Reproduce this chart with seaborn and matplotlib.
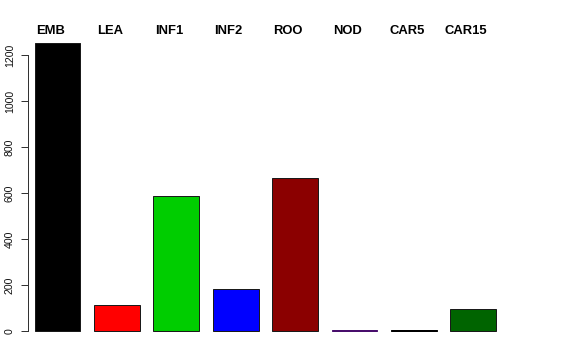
import matplotlib
matplotlib.use("Agg")
import matplotlib.pyplot as plt
import matplotlib.transforms as mtransforms
import seaborn as sns
import pandas as pd

categories = ["EMB", "LEA", "INF1", "INF2", "ROO", "NOD", "CAR5", "CAR15"]
values = [1252, 113, 585, 182, 665, 3, 3, 96]
colors = ["#000000", "#FF0000", "#00CD00", "#0000FF", "#8B0000", "#A020F0", "#000000", "#006400"]
yticks = [0, 200, 400, 600, 800, 1000, 1200]

sns.set_theme(style="white")
plt.rcParams["font.family"] = ["Liberation Sans", "DejaVu Sans"]

W, H = 576, 360
fig = plt.figure(figsize=(W / 72, H / 72), dpi=72)

left_px, right_px, top_px, bottom_px = 28, 560, 30, 345
ax = fig.add_axes([left_px / W, 1 - bottom_px / H, (right_px - left_px) / W, (bottom_px - top_px) / H])

df = pd.DataFrame({"cat": categories, "val": values})
sns.barplot(data=df, x="cat", y="val", hue="cat", palette=colors, legend=False,
            width=0.77, edgecolor="#1a1a1a", linewidth=1.0, ax=ax, saturation=1)

# very short bars: let the fill colour show through the border, as in the reference
for patch, v, col in zip(ax.patches, values, colors):
    if v < 10:
        r, g, b, _ = matplotlib.colors.to_rgba(col)
        patch.set_edgecolor((r * 0.45, g * 0.45, b * 0.45, 1))

pitch = 59.4
c0 = 57.5
ax.set_xlim((left_px - c0) / pitch, (right_px - c0) / pitch)
scale = 0.23
y0 = 331
ax.set_ylim(-(bottom_px - y0) / scale, (y0 - top_px) / scale)

for s in ["top", "right", "bottom"]:
    ax.spines[s].set_visible(False)
ax.spines["left"].set_bounds(0, 1200)
ax.spines["left"].set_color("#333333")
ax.spines["left"].set_linewidth(1.0)

ax.set_yticks(yticks)
ax.set_yticklabels([str(v) for v in yticks], rotation=90, va="center", fontsize=10.5, color="#111111")
ax.tick_params(axis="y", left=True, length=7, width=1.0, color="#333333", pad=6)
ax.set_xticks([])
ax.set_xlabel("")
ax.set_ylabel("")
ax.grid(False)

shift = mtransforms.ScaledTranslation(-7 / 72, 0, fig.dpi_scale_trans)
baseline_y = 1 + (top_px - 34) / (bottom_px - top_px)
for i, c in enumerate(categories):
    ax.text(i, baseline_y, c, transform=ax.get_xaxis_transform() + shift, ha="center",
            va="baseline", fontsize=13, fontweight="bold", color="black", clip_on=False)

fig.savefig("out.png", dpi=72, facecolor="white")
